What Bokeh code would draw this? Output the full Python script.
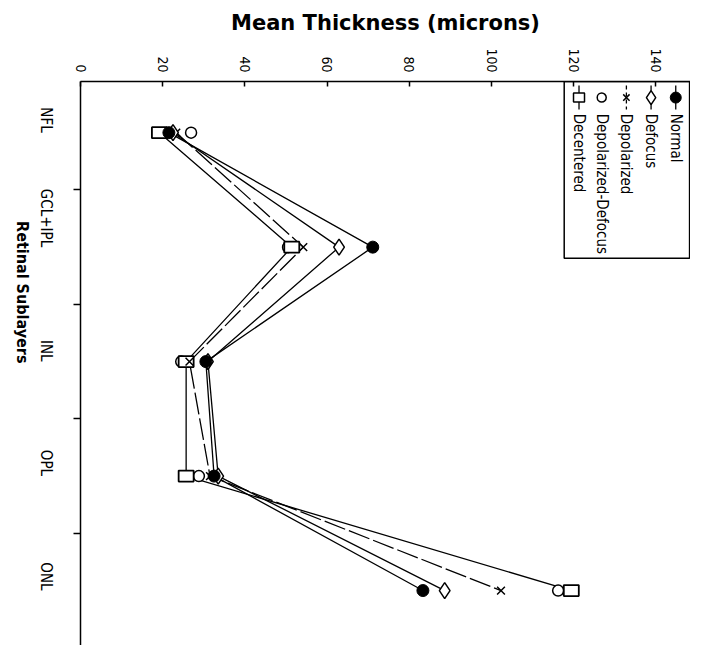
import math
from bokeh.plotting import figure
from bokeh.models import Range1d, FixedTicker, ColumnDataSource
from bokeh.core.properties import value
from bokeh.embed import file_html
from bokeh.resources import INLINE

# ---------------- data ----------------
categories = ["NFL", "GCL+IPL", "INL", "OPL", "ONL"]
normal = [21.5, 71.1, 30.5, 32.5, 83.3]
defocus = [22.5, 62.9, 31.0, 33.5, 88.6]
depolarized = [23.3, 54.2, 26.5, 31.5, 102.3]
depol_defocus = [26.9, 50.5, 24.5, 28.8, 116.2]
decentered = [19.2, 51.4, 25.7, 25.7, 119.4]
series_names = ["Normal", "Defocus", "Depolarized", "Depolarized-Defocus", "Decentered"]
value_ticks = [0, 20, 40, 60, 80, 100, 120, 140]

NARROW = "'Liberation Sans Narrow', 'Arial Narrow', 'DejaVu Sans Condensed', sans-serif"

cat_idx = list(range(len(categories)))

Y_TOP, Y_BOT = -0.447, 4.48

p = figure(width=690, height=645, output_backend="svg", toolbar_location=None,
           x_range=Range1d(0, 148.4), y_range=Range1d(Y_BOT, Y_TOP),
           x_axis_location="above", min_border_left=72, min_border_top=81,
           min_border_right=0, min_border_bottom=0)
p.outline_line_color = None
p.grid.visible = False
p.background_fill_color = "white"
p.border_fill_color = "white"

# top (value) axis
xa = p.xaxis[0]
xa.ticker = FixedTicker(ticks=value_ticks)
xa.major_tick_in = 5
xa.major_tick_out = 0
xa.minor_tick_line_color = None
xa.major_label_orientation = -math.pi / 2
xa.major_label_text_font = NARROW
xa.major_label_text_font_size = "14px"
xa.major_label_text_color = "black"
xa.major_label_standoff = 9
xa.axis_label = "Mean Thickness (microns)"
xa.axis_label_text_font = "DejaVu Sans"
xa.axis_label_text_font_style = "bold"
xa.axis_label_text_font_size = "21px"
xa.axis_label_text_color = "black"
xa.axis_label_standoff = 10
xa.axis_line_width = 1.5
xa.major_tick_line_width = 1.5

# left (category) axis
ya = p.yaxis[0]
ya.ticker = FixedTicker(ticks=cat_idx, minor_ticks=[0.5, 1.5, 2.5, 3.5])
ya.major_label_overrides = {i: c for i, c in enumerate(categories)}
ya.major_tick_in = 0
ya.major_tick_out = 0
ya.minor_tick_in = 0
ya.minor_tick_out = 7
ya.minor_tick_line_width = 1.5
ya.major_label_orientation = -math.pi / 2
ya.major_label_text_font = NARROW
ya.major_label_text_font_size = "15px"
ya.major_label_text_color = "black"
ya.major_label_standoff = 28
ya.axis_label = "Retinal Sublayers"
ya.axis_label_orientation = -math.pi / 2
ya.axis_label_text_font = NARROW
ya.axis_label_text_font_style = "bold"
ya.axis_label_text_font_size = "16px"
ya.axis_label_text_color = "black"
ya.axis_label_standoff = 2
ya.axis_line_width = 1.5

lw = 1.3
# lines
p.line(normal, cat_idx, line_color="black", line_width=lw)
p.line(defocus, cat_idx, line_color="black", line_width=lw)
p.line(depolarized, cat_idx, line_color="black", line_width=lw, line_dash="22 4")
p.line(decentered, cat_idx, line_color="black", line_width=lw)

# markers
p.scatter(depol_defocus, cat_idx, marker="circle", size=11, fill_color="white",
          line_color="black", line_width=1.5)
p.rect(decentered, cat_idx, width=15, height=11, width_units="screen", height_units="screen",
       fill_color="white", line_color="black", line_width=1.8)
p.scatter(depolarized, cat_idx, marker="x", size=11, line_color="black", line_width=1.5)
p.scatter(defocus, cat_idx, marker="diamond", size=16, fill_color="white",
          line_color="black", line_width=1.5)
p.scatter(normal, cat_idx, marker="circle", size=12, fill_color="black", line_color="black")

# ---------------- manual rotated legend (layout) ----------------
def px_x(ix):
    return (ix - 80) / 4.164

def px_y(iy):
    return Y_TOP + (iy - 81) / 114.0

box_l, box_r, box_t, box_b = px_x(570), px_x(697), px_y(81), px_y(257)
p.quad(left=[box_l], right=[box_r], top=[box_t], bottom=[box_b],
       fill_color="white", line_color="black", line_width=1.5)

col_x = [px_x(v) for v in (683, 658, 633, 608, 585)]
seg_top, seg_bot, mk_y, txt_y = px_y(85), px_y(109), px_y(97), px_y(113)
styles = [
    dict(line=True, dash="solid"),
    dict(line=True, dash="solid"),
    dict(line=True, dash="4 3"),
    dict(line=False, dash="solid"),
    dict(line=True, dash="solid"),
]
for cx, st in zip(col_x, styles):
    if st["line"]:
        p.line([cx, cx], [seg_top, seg_bot], line_color="black", line_width=lw, line_dash=st["dash"])
p.scatter([col_x[0]], [mk_y], marker="circle", size=11, fill_color="black", line_color="black")
p.scatter([col_x[1]], [mk_y], marker="diamond", size=14, fill_color="white", line_color="black", line_width=1.5)
p.scatter([col_x[2]], [mk_y], marker="x", size=9, line_color="black", line_width=1.5)
p.scatter([col_x[3]], [mk_y], marker="circle", size=9, fill_color="white", line_color="black", line_width=1.5)
p.rect([col_x[4]], [mk_y], width=11, height=9, width_units="screen", height_units="screen",
       fill_color="white", line_color="black", line_width=1.5)

leg_src = ColumnDataSource(dict(x=col_x, y=[txt_y] * 5, t=series_names))
p.text(x="x", y="y", text="t", source=leg_src, angle=-math.pi / 2,
       text_align="left", text_baseline="middle", text_color="black",
       text_font=value(NARROW), text_font_size="15px")

open("out.html", "w").write(file_html(p, INLINE))
